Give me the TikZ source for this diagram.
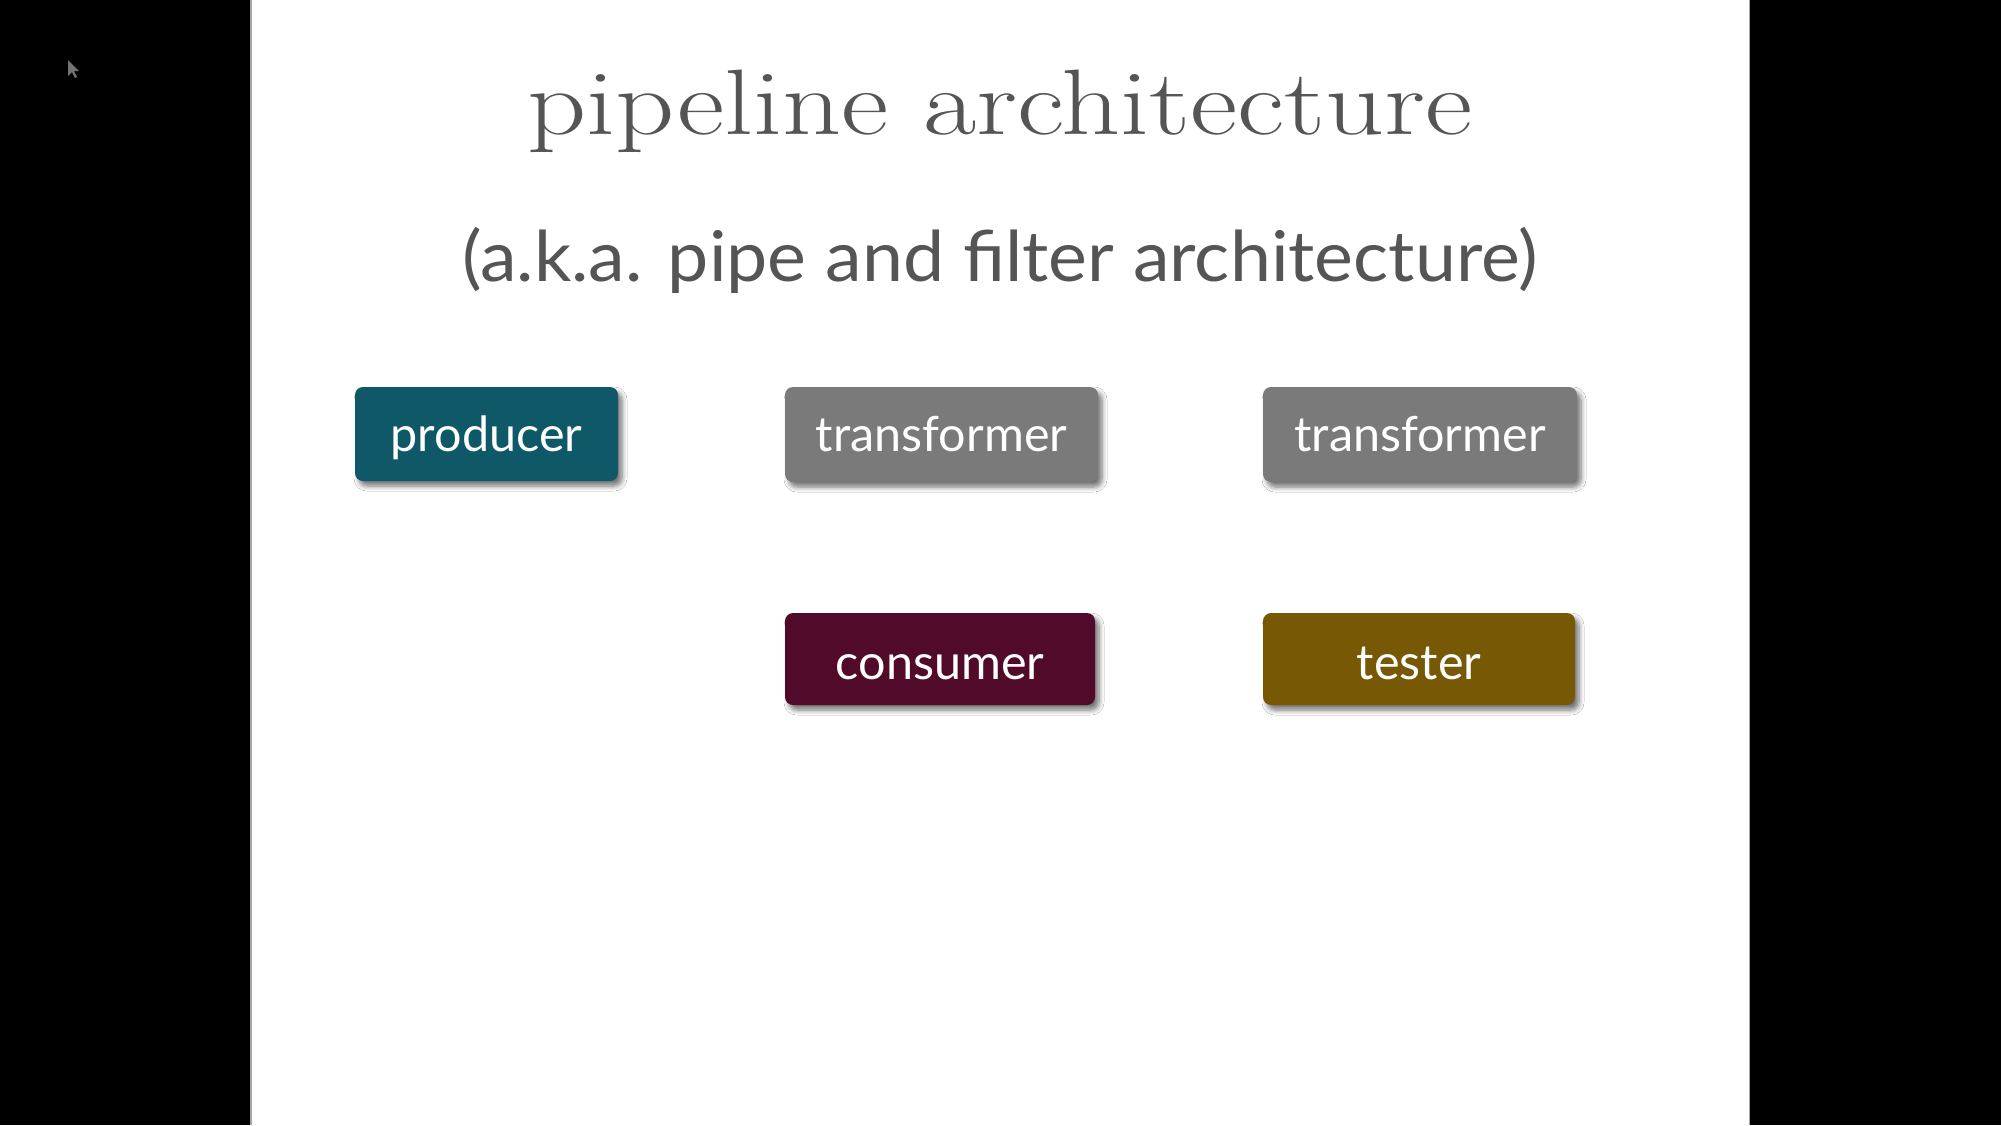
\documentclass[tikz,border=0pt]{standalone}
\usepackage{fontspec}
\setsansfont{Lato}
\usetikzlibrary{shadows.blur}
\definecolor{prodc}{HTML}{0E5868}
\definecolor{transc}{HTML}{7A7A7A}
\definecolor{consc}{HTML}{520A2A}
\definecolor{testc}{HTML}{765805}
\definecolor{titlec}{HTML}{555555}
\tikzset{
  boxnode/.style={rounded corners=8pt, inner sep=0pt, text=white,
    font=\sffamily\fontsize{48.5}{54}\selectfont, text height=34pt, text depth=0pt,
    blur shadow={shadow xshift=4pt, shadow yshift=-5pt, shadow blur steps=6, shadow blur radius=5pt, shadow opacity=55}},
  lowrow/.style={text height=40pt},
}
\begin{document}
\begin{tikzpicture}[x=1pt,y=-1pt]
\useasboundingbox (0,0) rectangle (2001,1125);
\fill[black] (0,0) rectangle (2001,1125);
\fill[white] (250,0) rectangle (1750,1125);
\draw[black!35, line width=1.5pt] (250.75,0) -- (250.75,1125);
\draw[black!35, line width=1.5pt] (1749.25,0) -- (1749.25,1125);
% cursor
\fill[black!55] (68,60) -- (68,76) -- (72,72) -- (75,78) -- (77,77) -- (74,71) -- (79,71) -- cycle;
\node[anchor=base, text=titlec, font=\fontsize{93}{100}\selectfont] (title) at (1000,134) {\scalebox{1.245}[1]{pipeline architecture}};
\node[anchor=base, text=titlec, font=\sffamily\fontsize{70}{76}\selectfont] (subtitle) at (1000,281) {\scalebox{1.05}[1]{(a.k.a. pipe and filter architecture)}};
\node[boxnode, fill=prodc, minimum width=263pt, minimum height=94pt] (producer) at (486.5,434) {producer};
\node[boxnode, fill=transc, minimum width=313pt, minimum height=95pt] (trans1) at (941.5,434.5) {transformer};
\node[boxnode, fill=transc, minimum width=314pt, minimum height=95pt] (trans2) at (1420,434.5) {transformer};
\node[boxnode, lowrow, fill=consc, minimum width=310pt, minimum height=92pt] (consumer) at (940,659) {consumer};
\node[boxnode, lowrow, fill=testc, minimum width=312pt, minimum height=92pt] (tester) at (1419,659) {tester};
\end{tikzpicture}
\end{document}
